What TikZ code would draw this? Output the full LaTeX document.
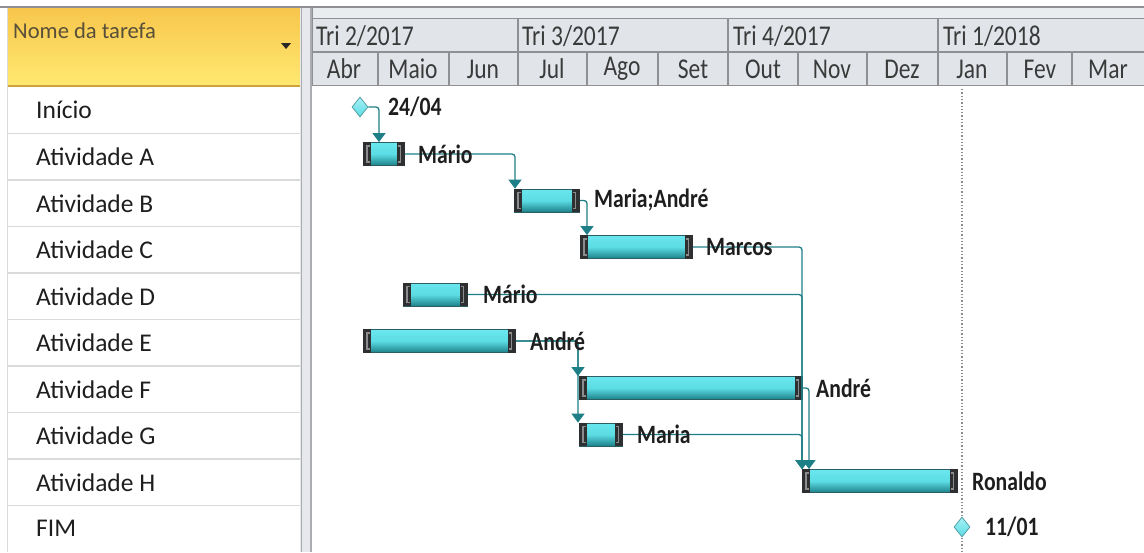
\documentclass[tikz,border=0pt]{standalone}
\usepackage{fontspec}
\setmainfont{Carlito}
\usetikzlibrary{shapes.geometric,arrows.meta,calc}
\definecolor{hdrTop}{HTML}{F8C64C}
\definecolor{hdrBot}{HTML}{FFE971}
\definecolor{hdrLine}{HTML}{CFA23A}
\definecolor{gridGray}{HTML}{D9DADC}
\definecolor{headBg}{HTML}{E1E5EA}
\definecolor{headLine}{HTML}{8E9094}
\definecolor{scrollBg}{HTML}{E6E8EB}
\definecolor{scrollLine}{HTML}{A9ADB2}
\definecolor{barTop}{HTML}{6AE6EE}
\definecolor{barMid}{HTML}{5CDCE4}
\definecolor{barBot}{HTML}{1C8088}
\definecolor{barEdge}{HTML}{2B5F63}
\definecolor{capc}{HTML}{2E2F30}
\definecolor{brkc}{HTML}{8A8C8E}
\definecolor{connc}{HTML}{1E7F86}
\definecolor{txtc}{HTML}{1E1E1E}
\definecolor{headTxt}{HTML}{3A3A3A}
\newcommand\gbar[4]{%
  \node[gbarnode, minimum width={#3-#2}, anchor=west] (#1) at (#2,#4) {};
  \fill[capc] (#1.north west) rectangle ([xshift=8pt]#1.south west);
  \fill[capc] (#1.north east) rectangle ([xshift=-8pt]#1.south east);
  \draw[brk] ([xshift=7pt,yshift=-4pt]#1.north west) -- ([xshift=4pt,yshift=-4pt]#1.north west)
     -- ([xshift=4pt,yshift=4pt]#1.south west) -- ([xshift=7pt,yshift=4pt]#1.south west);
  \draw[brk] ([xshift=-7pt,yshift=-4pt]#1.north east) -- ([xshift=-4pt,yshift=-4pt]#1.north east)
     -- ([xshift=-4pt,yshift=4pt]#1.south east) -- ([xshift=-7pt,yshift=4pt]#1.south east);
}
\begin{document}
\begin{tikzpicture}[x=1pt,y=-1pt,
  gbarnode/.style={rectangle, draw=barEdge, line width=0.8pt, minimum height=23pt, inner sep=0pt,
     top color=barTop, bottom color=barBot, middle color=barMid},
  brk/.style={draw=brkc, line width=1.3pt},
  ms/.style={diamond, minimum width=16pt, minimum height=20pt, inner sep=0pt, draw=connc!80, line width=0.7pt,
     top color=barTop!60!white, bottom color=barMid},
  conn/.style={draw=connc, line width=1.3pt, rounded corners=3pt, -{Triangle[width=13pt,length=9pt]}},
  task/.style={anchor=west, inner sep=0pt, text=txtc, font=\fontsize{25.5}{30}\selectfont},
  lbl/.style={anchor=west, inner sep=0pt, text=txtc, font=\fontsize{21.7}{26}\selectfont\bfseries},
  hdr/.style={inner sep=0pt, text=headTxt, font=\fontsize{23.5}{28}\selectfont},
]
\useasboundingbox (0,0) rectangle (1144,552);
\fill[white] (0,0) rectangle (1144,552);

% ---- left table ----
\fill[top color=hdrTop, bottom color=hdrBot] (8,8) rectangle (300,86);
\draw[hdrLine, line width=1.2pt] (8,86) -- (300,86);
\draw[gridGray, line width=1.2pt] (7.5,8) -- (7.5,552);
\foreach \yy in {133.5,180,226.5,273,319.5,366,412.5,459,505.5}
  \draw[gridGray, line width=1.3pt] (8,\yy) -- (300,\yy);
\node[anchor=west, inner sep=0pt, text=headTxt!80!hdrLine, font=\fontsize{22.6}{27}\selectfont] (hname) at (13,31) {Nome da tarefa};
\fill[black!85] (281,43) -- (291,43) -- (286,49) -- cycle;

\node[task] (t0) at (36,110.3) {Início};
\node[task] (t1) at (36,156.8) {Atividade A};
\node[task] (t2) at (36,203.3) {Atividade B};
\node[task] (t3) at (36,249.8) {Atividade C};
\node[task] (t4) at (36,296.3) {Atividade D};
\node[task] (t5) at (36,342.8) {Atividade E};
\node[task] (t6) at (36,389.3) {Atividade F};
\node[task] (t7) at (36,435.8) {Atividade G};
\node[task] (t8) at (36,482.3) {Atividade H};
\node[task] (t9) at (36,528.8) {FIM};

% ---- splitter ----
\fill[scrollBg] (300,7) rectangle (312,552);
\draw[scrollLine, line width=1.2pt] (301.5,7) -- (301.5,552);
\draw[scrollLine, line width=1.2pt] (311,7) -- (311,552);

% ---- chart header ----
\fill[headBg!70!white] (312,7) rectangle (1144,18);
\fill[headBg] (312,18) rectangle (1144,86);
\draw[headLine, line width=1.2pt] (0,7) -- (1144,7);
\draw[headLine, line width=1pt] (312,18) -- (1144,18);
\draw[headLine, line width=1.2pt] (312,52) -- (1144,52);
\draw[headLine, line width=1.4pt] (312,85.5) -- (1144,85.5);
\draw[headLine, line width=1pt] (312,7) -- (312,86);
\foreach \xx in {518,728,938}
  \draw[headLine, line width=1.2pt] (\xx,18) -- (\xx,86);
\foreach \xx in {378,449,587,658,798,867,1007,1072}
  \draw[headLine, line width=1.2pt] (\xx,52) -- (\xx,86);

\node[hdr, anchor=west] (q1) at (316,36) {\scalebox{1}[1.22]{Tri 2/2017}};
\node[hdr, anchor=west] (q2) at (522,36) {\scalebox{1}[1.22]{Tri 3/2017}};
\node[hdr, anchor=west] (q3) at (733,36) {\scalebox{1}[1.22]{Tri 4/2017}};
\node[hdr, anchor=west] (q4) at (943,36) {\scalebox{1}[1.22]{Tri 1/2018}};
\node[hdr] (m1) at (344,69) {\scalebox{1}[1.22]{Abr}};
\node[hdr] (m2) at (413,69) {\scalebox{1}[1.22]{Maio}};
\node[hdr] (m3) at (483,69) {\scalebox{1}[1.22]{Jun}};
\node[hdr] (m4) at (552,69) {\scalebox{1}[1.22]{Jul}};
\node[hdr] (m5) at (622,69) {\scalebox{1}[1.22]{Ago}};
\node[hdr] (m6) at (693,69) {\scalebox{1}[1.22]{Set}};
\node[hdr] (m7) at (763,69) {\scalebox{1}[1.22]{Out}};
\node[hdr] (m8) at (832,69) {\scalebox{1}[1.22]{Nov}};
\node[hdr] (m9) at (902,69) {\scalebox{1}[1.22]{Dez}};
\node[hdr] (m10) at (972,69) {\scalebox{1}[1.22]{Jan}};
\node[hdr] (m11) at (1040,69) {\scalebox{1}[1.22]{Fev}};
\node[hdr] (m12) at (1108,69) {\scalebox{1}[1.22]{Mar}};

% ---- today line ----
\draw[black!45, line width=1.3pt, dotted] (962,89) -- (962,552);

% ---- bars ----
\node[ms] (S) at (360,107) {};
\gbar{A}{363}{404}{154}
\gbar{B}{514}{579}{200.5}
\gbar{C}{580}{692}{247}
\gbar{D}{403}{467}{294.5}
\gbar{E}{363}{515}{341}
\gbar{F}{579}{802}{388}
\gbar{G}{579}{622}{434.5}
\gbar{H}{802}{957}{481}
\node[ms] (E2) at (962,527) {};

% ---- connectors ----
\draw[conn] (S.east) -| ([xshift=16pt]A.north west);
\draw[conn] (A.east) -| ([xshift=1pt]B.north west);
\draw[conn] (B.east) -| ([xshift=7pt]C.north west);
\draw[conn] (C.east) -| (H.north west);
\draw[conn] (D.east) -| (H.north west);
\draw[conn] (G.east) -| (H.north west);
\draw[conn] (F.east) -| ([xshift=7pt]H.north west);
\draw[conn] (E.east) -| ([xshift=-1pt]F.north west);
\draw[conn] (E.east) -| ([xshift=-1pt]G.north west);

% ---- labels ----
\node[lbl] (l0) at (388,106.5) {\scalebox{1}[1.22]{24/04}};
\node[lbl] (l1) at (418,154) {\scalebox{1}[1.22]{Mário}};
\node[lbl] (l2) at (594,200) {\scalebox{1}[1.22]{Maria;André}};
\node[lbl] (l3) at (706,247) {\scalebox{1}[1.22]{Marcos}};
\node[lbl] (l4) at (483,294.5) {\scalebox{1}[1.22]{Mário}};
\node[lbl] (l5) at (530,341) {\scalebox{1}[1.22]{André}};
\node[lbl] (l6) at (816,388) {\scalebox{1}[1.22]{André}};
\node[lbl] (l7) at (637,434) {\scalebox{1}[1.22]{Maria}};
\node[lbl] (l8) at (972,481) {\scalebox{1}[1.22]{Ronaldo}};
\node[lbl] (l9) at (985,527) {\scalebox{1}[1.22]{11/01}};
\end{tikzpicture}
\end{document}
